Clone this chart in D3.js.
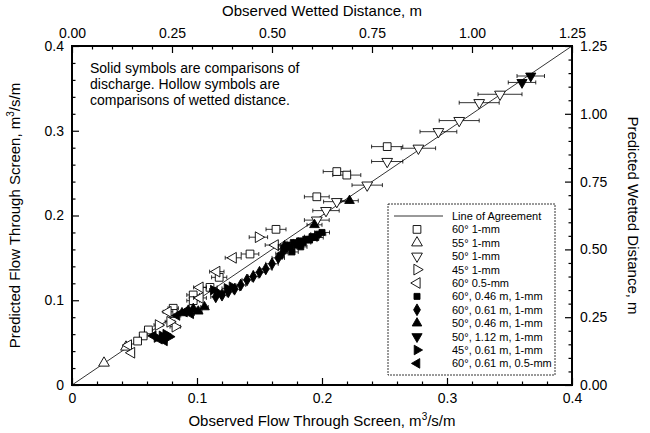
<!DOCTYPE html>
<html><head><meta charset="utf-8">
<script src="https://cdn.jsdelivr.net/npm/d3@7"></script>
<style>
html,body{margin:0;padding:0;background:#fff;}
text{font-family:"Liberation Sans",Arial,sans-serif;fill:#000;}
</style></head>
<body><svg id="c" width="650" height="433"></svg>
<script>
// ---------- DATA ----------
// Hollow symbols: wetted distance (m) — [observed, predicted, observed error]
const sq60_1mm = [[0.788,0.879,0.039],[0.662,0.787,0.034],[0.687,0.774,0.035],[0.612,0.694,0.031],[0.510,0.574,0.025],[0.445,0.483,0.022],[0.368,0.397,0.019],[0.345,0.360,0.018],[0.303,0.332,0.016],[0.303,0.311,0.016],[0.253,0.283,0.013],[0.253,0.264,0.013],[0.191,0.203,0.010],[0.178,0.181,0.009],[0.164,0.162,0.008]];
const tri55_1mm = [[0.080,0.081,0.005],[0.135,0.140,0.007]];
const tdn50_1mm = [[1.070,1.072,0.055],[1.018,1.041,0.050],[0.968,0.975,0.050],[0.916,0.934,0.046],[0.866,0.873,0.043],[0.788,0.824,0.039],[0.738,0.737,0.038],[0.662,0.676,0.033],[0.635,0.643,0.033],[0.612,0.608,0.031]];
const trt45_1mm = [[0.466,0.545,0.023],[0.216,0.221,0.011],[0.258,0.215,0.013],[0.245,0.233,0.012]];
const tlt60_05mm = [[0.508,0.516,0.025],[0.403,0.469,0.020],[0.362,0.418,0.018],[0.320,0.360,0.016],[0.320,0.321,0.016],[0.240,0.270,0.012],[0.141,0.147,0.007],[0.149,0.119,0.007]];
// Solid symbols: discharge (m3/s/m) — [observed, predicted, observed error]
const sq60_046 = [[0.170,0.160,0.005],[0.172,0.165,0.005],[0.175,0.162,0.005],[0.177,0.168,0.005],[0.180,0.165,0.005],[0.182,0.170,0.005],[0.185,0.168,0.006],[0.187,0.172,0.006],[0.190,0.171,0.006],[0.192,0.175,0.006],[0.195,0.174,0.006],[0.197,0.178,0.006],[0.200,0.180,0.006],[0.176,0.157,0.005],[0.183,0.163,0.005]];
const dia60_061 = [[0.115,0.104,0.004],[0.120,0.106,0.004],[0.125,0.110,0.004],[0.130,0.113,0.004],[0.135,0.118,0.004],[0.140,0.124,0.004],[0.145,0.128,0.004],[0.150,0.133,0.005],[0.155,0.137,0.005],[0.160,0.143,0.005],[0.165,0.150,0.005],[0.168,0.155,0.005]];
const tri50_046 = [[0.088,0.085,0.003],[0.093,0.088,0.003],[0.097,0.090,0.003],[0.101,0.087,0.003],[0.106,0.092,0.003],[0.170,0.164,0.005],[0.194,0.189,0.006],[0.222,0.2175,0.007]];
const tdn50_112 = [[0.367,0.3646,0.011],[0.360,0.357,0.011]];
const trt45_061 = [[0.068,0.056,0.002],[0.072,0.058,0.002],[0.075,0.060,0.002],[0.078,0.057,0.002],[0.113,0.112,0.003],[0.118,0.108,0.004],[0.124,0.114,0.004],[0.128,0.116,0.004]];
const tlt60_061_05 = [[0.065,0.058,0.002],[0.070,0.054,0.002],[0.074,0.052,0.002],[0.084,0.082,0.003],[0.090,0.086,0.003],[0.095,0.084,0.003]];

const flowTicks = [0, 0.1, 0.2, 0.3, 0.4];
const distTicks = [0, 0.25, 0.5, 0.75, 1.0, 1.25];
const legendLabels = ["Line of Agreement","60\u00b0 1-mm","55\u00b0 1-mm","50\u00b0 1-mm","45\u00b0 1-mm","60\u00b0 0.5-mm",
  "60\u00b0, 0.46 m, 1-mm","60\u00b0, 0.61 m, 1-mm","50\u00b0, 0.46 m, 1-mm","50\u00b0, 1.12 m, 1-mm","45\u00b0, 0.61 m, 1-mm","60\u00b0, 0.61 m, 0.5-mm"];
const noteLines = ["Solid symbols are comparisons of","discharge.  Hollow symbols are","comparisons of wetted distance."];

// ---------- LAYOUT ----------
const L=72, R=572, T=46, B=385;
const svg = d3.select("#c");
const xF = d3.scaleLinear().domain([0,0.4]).range([L,R]);
const yF = d3.scaleLinear().domain([0,0.4]).range([B,T]);
const xD = d3.scaleLinear().domain([0,1.25]).range([L,R]);
const yD = d3.scaleLinear().domain([0,1.25]).range([B,T]);

// line of agreement
svg.append("line").attr("x1",xF(0)).attr("y1",yF(0)).attr("x2",xF(0.4)).attr("y2",yF(0.4))
  .attr("stroke","#000").attr("stroke-width",0.8);

// symbols
const sym = {
  square: {type:d3.symbolSquare, rot:0},
  up: {type:d3.symbolTriangle, rot:0},
  down: {type:d3.symbolTriangle, rot:180},
  right: {type:d3.symbolTriangle, rot:90},
  left: {type:d3.symbolTriangle, rot:-90},
  diamond: {type:d3.symbolDiamond, rot:0}
};
const series = [
  {data:sq60_1mm, s:"square", solid:false, size:60},
  {data:tri55_1mm, s:"up", solid:false, size:50},
  {data:tdn50_1mm, s:"down", solid:false, size:50},
  {data:trt45_1mm, s:"right", solid:false, size:50},
  {data:tlt60_05mm, s:"left", solid:false, size:50},
  {data:sq60_046, s:"square", solid:true, size:36},
  {data:dia60_061, s:"diamond", solid:true, size:40},
  {data:tri50_046, s:"up", solid:true, size:40},
  {data:tdn50_112, s:"down", solid:true, size:45},
  {data:trt45_061, s:"right", solid:true, size:40},
  {data:tlt60_061_05, s:"left", solid:true, size:40}
];

const gData = svg.append("g");
series.forEach(se => {
  const xs = se.solid ? xF : xD, ys = se.solid ? yF : yD;
  const g = gData.append("g");
  se.data.forEach(d => {
    const x1 = xs(d[0]-d[2]), x2 = xs(d[0]+d[2]), y = ys(d[1]);
    g.append("line").attr("x1",x1).attr("x2",x2).attr("y1",y).attr("y2",y).attr("stroke","#000").attr("stroke-width",0.8);
    [x1,x2].forEach(x => g.append("line").attr("x1",x).attr("x2",x).attr("y1",y-2).attr("y2",y+2).attr("stroke","#000").attr("stroke-width",0.8));
  });
  g.selectAll("path.m").data(se.data).join("path").attr("class","m")
    .attr("d", d3.symbol().type(sym[se.s].type).size(se.size))
    .attr("transform", d => `translate(${xs(d[0])},${ys(d[1])}) rotate(${sym[se.s].rot})`)
    .attr("fill", se.solid ? "#000" : "#fff").attr("stroke","#000").attr("stroke-width",0.9);
});

// axes
const fontSize = 14;
function styleAxis(g){ g.select(".domain").remove(); g.selectAll("line").attr("stroke","#000").attr("stroke-width",1.2);
  g.selectAll("text").attr("font-size",fontSize).attr("font-family","Liberation Sans, Arial, sans-serif"); }
const minorF = d3.range(0,0.4001,0.02).filter(v => Math.abs(v*10-Math.round(v*10))>1e-6);
const minorD = d3.range(0,1.2501,0.05).filter(v => Math.abs(v*4-Math.round(v*4))>1e-6);

svg.append("g").attr("transform",`translate(0,${B})`).call(d3.axisBottom(xF).tickValues(flowTicks).tickFormat(d3.format("")).tickSize(-7).tickSizeOuter(0).tickPadding(8)).call(styleAxis);
svg.append("g").attr("transform",`translate(0,${B})`).call(d3.axisBottom(xF).tickValues(minorF).tickFormat("").tickSize(-3.5).tickSizeOuter(0)).call(styleAxis);
svg.append("g").attr("transform",`translate(${L},0)`).call(d3.axisLeft(yF).tickValues(flowTicks).tickFormat(d3.format("")).tickSize(-7).tickSizeOuter(0).tickPadding(8)).call(styleAxis);
svg.append("g").attr("transform",`translate(${L},0)`).call(d3.axisLeft(yF).tickValues(minorF).tickFormat("").tickSize(-3.5).tickSizeOuter(0)).call(styleAxis);
svg.append("g").attr("transform",`translate(0,${T})`).call(d3.axisTop(xD).tickValues(distTicks).tickFormat(d3.format(".2f")).tickSize(-7).tickSizeOuter(0).tickPadding(8)).call(styleAxis);
svg.append("g").attr("transform",`translate(0,${T})`).call(d3.axisTop(xD).tickValues(minorD).tickFormat("").tickSize(-3.5).tickSizeOuter(0)).call(styleAxis);
svg.append("g").attr("transform",`translate(${R},0)`).call(d3.axisRight(yD).tickValues(distTicks).tickFormat(d3.format(".2f")).tickSize(-7).tickSizeOuter(0).tickPadding(8)).call(styleAxis);
svg.append("g").attr("transform",`translate(${R},0)`).call(d3.axisRight(yD).tickValues(minorD).tickFormat("").tickSize(-3.5).tickSizeOuter(0)).call(styleAxis);

// frame
svg.append("rect").attr("x",L).attr("y",T).attr("width",R-L).attr("height",B-T).attr("fill","none").attr("stroke","#000").attr("stroke-width",2);

// titles
const tfs = 15;
const bt = svg.append("text").attr("x",(L+R)/2).attr("y",426).attr("text-anchor","middle").attr("font-size",tfs);
bt.append("tspan").text("Observed Flow Through Screen, m");
bt.append("tspan").attr("dy",-6).attr("font-size",10).text("3");
bt.append("tspan").attr("dy",6).text("/s/m");
svg.append("text").attr("x",(L+R)/2).attr("y",16).attr("text-anchor","middle").attr("font-size",tfs).text("Observed Wetted Distance, m");
const lt = svg.append("text").attr("transform",`translate(20,${(T+B)/2}) rotate(-90)`).attr("text-anchor","middle").attr("font-size",tfs);
lt.append("tspan").text("Predicted Flow Through Screen, m");
lt.append("tspan").attr("dy",-6).attr("font-size",10).text("3");
lt.append("tspan").attr("dy",6).text("/s/m");
svg.append("text").attr("transform",`translate(628,${(T+B)/2}) rotate(90)`).attr("text-anchor","middle").attr("font-size",tfs).text("Predicted Wetted Distance, m");

// note
svg.append("g").selectAll("text").data(noteLines).join("text")
  .attr("x",90).attr("y",(d,i)=>73+i*16).attr("font-size",14).text(d=>d);

// legend
const lgX=388, lgY=204, lgW=167, lgH=171;
svg.append("rect").attr("x",lgX).attr("y",lgY).attr("width",lgW).attr("height",lgH).attr("fill","#fff")
  .attr("stroke","#000").attr("stroke-width",0.8).attr("stroke-dasharray","2,1");
const rowY = i => 216 + i*13.4;
svg.append("line").attr("x1",394).attr("x2",443).attr("y1",rowY(0)).attr("y2",rowY(0)).attr("stroke","#000").attr("stroke-width",0.8);
series.forEach((se,i) => {
  svg.append("path").attr("d", d3.symbol().type(sym[se.s].type).size(se.size))
    .attr("transform",`translate(417,${rowY(i+1)}) rotate(${sym[se.s].rot})`)
    .attr("fill", se.solid ? "#000" : "#fff").attr("stroke","#000").attr("stroke-width",0.9);
});
svg.append("g").selectAll("text").data(legendLabels).join("text")
  .attr("x",452).attr("y",(d,i)=>rowY(i)+4).attr("font-size",11).text(d=>d);
</script></body></html>
